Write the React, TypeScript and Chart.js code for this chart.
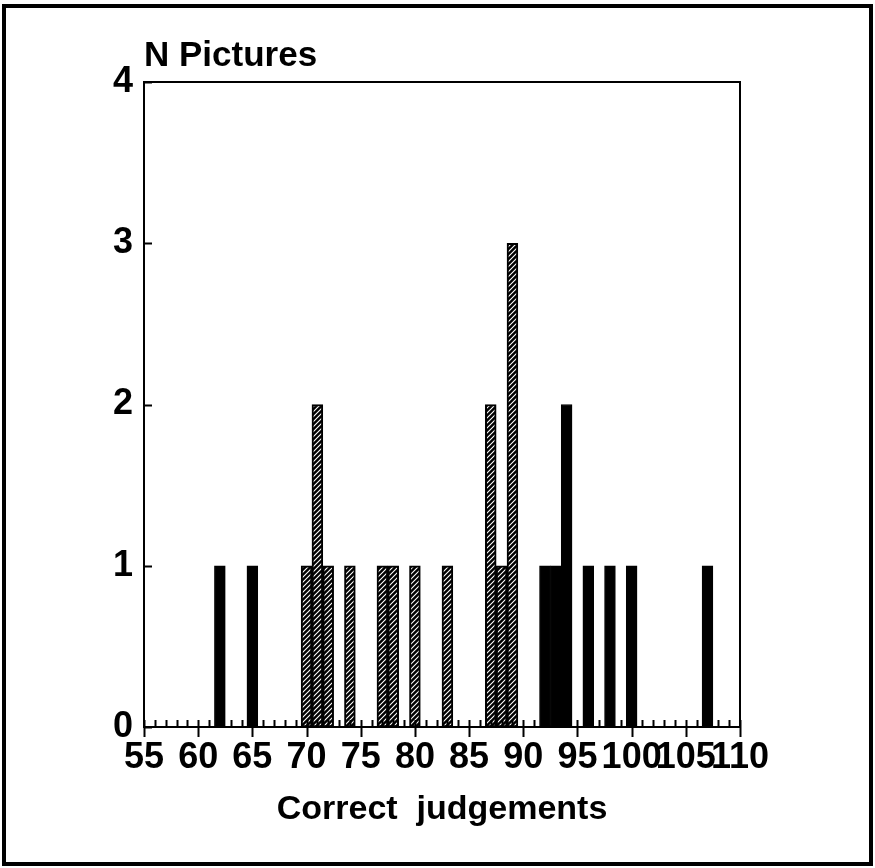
import React, { useEffect, useRef } from "react";
import { Chart, registerables } from "chart.js";

Chart.register(...registerables);

const hatchedValues = [70, 71, 72, 74, 77, 78, 80, 83, 87, 88, 89];
const hatchedCounts = [1, 2, 1, 1, 1, 1, 1, 1, 2, 1, 3];
const blackValues = [62, 65, 92, 93, 94, 96, 98, 100, 107];
const blackCounts = [1, 1, 1, 1, 2, 1, 1, 1, 1];
const xTickLabels = [55, 60, 65, 70, 75, 80, 85, 90, 95, 100, 105, 110];
const yTickLabels = [0, 1, 2, 3, 4];

const FONT = "'Liberation Sans', Arial, Helvetica, sans-serif";

function makeHatch(): CanvasPattern | string {
  const c = document.createElement("canvas");
  c.width = 5;
  c.height = 5;
  const g = c.getContext("2d");
  if (!g) return "#000";
  g.fillStyle = "#000";
  g.fillRect(0, 0, 5, 5);
  g.strokeStyle = "#fff";
  g.lineWidth = 1.1;
  g.beginPath();
  g.moveTo(-1, 6);
  g.lineTo(6, -1);
  g.moveTo(-3.5, 3.5);
  g.lineTo(3.5, -3.5);
  g.moveTo(1.5, 8.5);
  g.lineTo(8.5, 1.5);
  g.stroke();
  const p = g.createPattern(c, "repeat");
  return p || "#000";
}

const framePlugin = {
  id: "frameTicks",
  afterDatasetsDraw(chart: any) {
    const { ctx, chartArea } = chart;
    const xs = chart.scales.x;
    const ys = chart.scales.y;
    ctx.save();
    ctx.strokeStyle = "#000";
    ctx.lineWidth = 2;
    ctx.strokeRect(chartArea.left, chartArea.top, chartArea.right - chartArea.left, chartArea.bottom - chartArea.top);
    ctx.beginPath();
    const first = xTickLabels[0];
    const last = xTickLabels[xTickLabels.length - 1];
    for (let v = first; v <= last; v++) {
      const px = Math.round(xs.getPixelForValue(v)) + 0.5;
      if (v % 5 === 0) {
        ctx.moveTo(px, chartArea.bottom - 7);
        ctx.lineTo(px, chartArea.bottom + 10);
      } else {
        ctx.moveTo(px, chartArea.bottom - 7);
        ctx.lineTo(px, chartArea.bottom);
      }
    }
    for (const v of yTickLabels) {
      const py = Math.round(ys.getPixelForValue(v)) + 0.5;
      ctx.moveTo(chartArea.left, py);
      ctx.lineTo(chartArea.left + 8, py);
    }
    ctx.stroke();
    ctx.restore();
  },
};

export default function App() {
  const ref = useRef<HTMLCanvasElement | null>(null);

  useEffect(() => {
    document.body.style.margin = "0";
    if (!ref.current) return;
    const hatch = makeHatch();
    const chart = new Chart(ref.current, {
      type: "bar",
      data: {
        datasets: [
          {
            label: "hatched",
            data: hatchedValues.map((x, i) => ({ x, y: hatchedCounts[i] })),
            backgroundColor: hatch as any,
            borderColor: "#000",
            borderWidth: 2,
            borderSkipped: false,
            grouped: false,
            barPercentage: 1,
            categoryPercentage: 1,
          } as any,
          {
            label: "black",
            data: blackValues.map((x, i) => ({ x, y: blackCounts[i] })),
            backgroundColor: "#000",
            borderColor: "#000",
            borderWidth: 1,
            borderSkipped: false,
            grouped: false,
            barPercentage: 1,
            categoryPercentage: 1,
          } as any,
        ],
      },
      options: {
        animation: false,
        responsive: false,
        devicePixelRatio: 1,
        layout: { padding: { left: 0, right: 135, top: 0, bottom: 38 } },
        plugins: {
          legend: { display: false },
          tooltip: { enabled: false },
          title: {
            display: true,
            text: "N Pictures",
            align: "start",
            fullSize: false,
            color: "#000",
            font: { family: FONT, size: 35, weight: "bold" },
            padding: { top: 35, bottom: 5 },
          },
        },
        scales: {
          x: {
            type: "linear",
            offset: false,
            min: xTickLabels[0],
            max: xTickLabels[xTickLabels.length - 1],
            grid: { display: false, drawTicks: false },
            border: { display: false },
            afterBuildTicks(scale: any) {
              scale.ticks = xTickLabels.map((v) => ({ value: v }));
            },
            ticks: {
              autoSkip: false,
              maxRotation: 0,
              minRotation: 0,
              padding: 9,
              color: "#000",
              font: { family: FONT, size: 36, weight: "bold" },
              callback: (v: any) => String(v),
            },
            title: {
              display: true,
              text: "Correct  judgements",
              color: "#000",
              font: { family: FONT, size: 34, weight: "bold" },
              padding: { top: 1, bottom: 0 },
            },
          },
          y: {
            min: 0,
            max: 4,
            grid: { display: false, drawTicks: false },
            border: { display: false },
            afterBuildTicks(scale: any) {
              scale.ticks = yTickLabels.map((v) => ({ value: v }));
            },
            afterFit(scale: any) {
              scale.width = 144;
            },
            ticks: {
              padding: 11,
              color: "#000",
              font: { family: FONT, size: 36, weight: "bold" },
            },
          },
        },
      },
      plugins: [framePlugin],
    } as any);
    return () => chart.destroy();
  }, []);

  return (
    <div style={{ position: "fixed", left: 0, top: 0, width: 875, height: 868, background: "#fff" }}>
      <div
        style={{
          position: "absolute",
          left: 2,
          top: 4,
          width: 871,
          height: 862,
          border: "4px solid #000",
          boxSizing: "border-box",
        }}
      />
      <canvas ref={ref} width={875} height={868} style={{ position: "absolute", left: 0, top: 0 }} />
    </div>
  );
}
